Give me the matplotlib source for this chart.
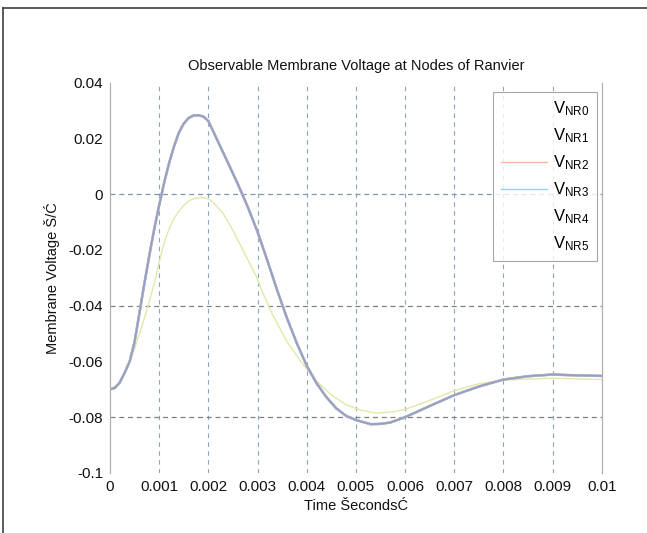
import matplotlib
matplotlib.use("Agg")
import matplotlib.pyplot as plt
from matplotlib.lines import Line2D

plt.rcParams['font.family'] = ['Liberation Sans', 'DejaVu Sans']

# time (s)
t_main = [0.0, 0.0001, 0.0002, 0.0003, 0.0004, 0.0005, 0.0006, 0.0007, 0.0008, 0.0009,
          0.0010, 0.0011, 0.0012, 0.0013, 0.0014, 0.0015, 0.0016, 0.0017, 0.0018, 0.0019,
          0.0020, 0.0021, 0.0022, 0.0024, 0.0026, 0.0028, 0.0030, 0.0032, 0.0034, 0.0036,
          0.0038, 0.0040, 0.0042, 0.0044, 0.0046, 0.0048, 0.0050, 0.0053, 0.0055, 0.0057,
          0.0060, 0.0065, 0.0070, 0.0075, 0.0080, 0.0085, 0.0090, 0.0095, 0.0100]
v_main = [-0.0700, -0.0695, -0.0675, -0.0640, -0.0600, -0.0530, -0.0425, -0.0320, -0.0220, -0.0125,
          -0.0040, 0.0040, 0.0110, 0.0170, 0.0220, 0.0253, 0.0273, 0.0282, 0.0283, 0.0278,
          0.0262, 0.0225, 0.0187, 0.0112, 0.0036, -0.0045, -0.0135, -0.0238, -0.0345, -0.0445,
          -0.0535, -0.0615, -0.0678, -0.0728, -0.0768, -0.0795, -0.0810, -0.0825, -0.0824, -0.0819,
          -0.0800, -0.0760, -0.0721, -0.0690, -0.0665, -0.0653, -0.0647, -0.0650, -0.0652]

t_faint = [0.0, 0.0002, 0.0004, 0.0005, 0.0006, 0.0007, 0.0008, 0.0009, 0.0010, 0.0011,
           0.0012, 0.0013, 0.0014, 0.0015, 0.0016, 0.0017, 0.00186, 0.0020, 0.0021, 0.0023,
           0.0025, 0.0027, 0.00298, 0.0031, 0.0033, 0.0036, 0.0039, 0.0042, 0.0045, 0.0048,
           0.0051, 0.0054, 0.0057, 0.0060, 0.0065, 0.0070, 0.0075, 0.0080, 0.0090, 0.0100]
v_faint = [-0.0700, -0.0677, -0.0605, -0.0555, -0.0500, -0.0445, -0.0385, -0.0320, -0.0245, -0.0175,
           -0.0125, -0.0088, -0.0062, -0.0040, -0.0025, -0.0016, -0.0012, -0.0017, -0.0030, -0.0069,
           -0.0130, -0.0200, -0.0297, -0.0350, -0.0430, -0.0530, -0.0605, -0.0670, -0.0720, -0.0755,
           -0.0775, -0.0785, -0.0782, -0.0772, -0.0740, -0.0705, -0.0680, -0.0667, -0.0660, -0.0665]

labels = ['$\\mathregular{V_{NR0}}$', '$\\mathregular{V_{NR1}}$', '$\\mathregular{V_{NR2}}$',
          '$\\mathregular{V_{NR3}}$', '$\\mathregular{V_{NR4}}$', '$\\mathregular{V_{NR5}}$']
line_colors = ['#b3a0d0', '#e0a6b8', '#f2b49a', '#9cc8e6', '#8fa2c4', '#dfeaa8']
legend_colors = ['white', 'white', '#f7b9a0', '#8fd6ee', 'white', 'white']

xticks = [0, 0.001, 0.002, 0.003, 0.004, 0.005, 0.006, 0.007, 0.008, 0.009, 0.01]
xticklabels = ['0', '0.001', '0.002', '0.003', '0.004', '0.005', '0.006', '0.007', '0.008', '0.009', '0.01']
yticks = [-0.1, -0.08, -0.06, -0.04, -0.02, 0, 0.02, 0.04]
yticklabels = ['-0.1', '-0.08', '-0.06', '-0.04', '-0.02', '0', '0.02', '0.04']
hgrid = [0, -0.04, -0.08]
hgrid_colors = ['#7f98b0', '#808080', '#808080']

fig = plt.figure(figsize=(6.47, 5.33), dpi=100)
ax = fig.add_axes([0.170, 0.1126, 0.760, 0.7325])

for xv in xticks[1:-1]:
    ax.axvline(xv, color='#8aa4bc', lw=0.8, ls=(0, (4, 4)), zorder=1)
for yv, c in zip(hgrid, hgrid_colors):
    ax.axhline(yv, color=c, lw=0.9, ls=(0, (4, 3)), zorder=1)

series = [(t_main, v_main), (t_main, v_main), (t_main, v_main),
          (t_main, v_main), (t_main, v_main), (t_faint, v_faint)]
handles = []
for i, ((tt, vv), c) in enumerate(zip(series, line_colors)):
    if i == 5:
        ax.plot(tt, vv, color=c, lw=1.0, zorder=1.5)
    else:
        ax.plot(tt, vv, color=c, lw=1.8 - 0.15 * i, zorder=2 + i * 0.1)
    handles.append(Line2D([], [], color=legend_colors[i], lw=1.0))

ax.set_xlim(0, 0.01)
ax.set_ylim(-0.1, 0.04)
ax.set_xticks(xticks)
ax.set_xticklabels(xticklabels)
ax.set_yticks(yticks)
ax.set_yticklabels(yticklabels)
ax.tick_params(length=0, labelsize=11, pad=5, colors='#111111')

for s in ['top', 'bottom']:
    ax.spines[s].set_visible(False)
for s in ['left', 'right']:
    ax.spines[s].set_color('#b0b0b0')
    ax.spines[s].set_linewidth(0.9)

ax.set_title('Observable Membrane Voltage at Nodes of Ranvier', fontsize=10.5, pad=9, color='#111111')
ax.set_xlabel('Time ŠecondsĆ', fontsize=10.5, labelpad=4, color='#111111')
ax.set_ylabel('Membrane Voltage Š/Ć', fontsize=10.5, labelpad=6, color='#111111')

leg = ax.legend(handles, labels, loc='upper right', bbox_to_anchor=(0.99, 0.976),
                borderaxespad=0, fontsize=12, frameon=True, fancybox=False,
                handlelength=2.8, labelspacing=0.5, borderpad=0.45, handletextpad=0.35)
leg.get_frame().set_edgecolor('#909090')
leg.get_frame().set_linewidth(0.8)

fig.add_artist(Line2D([3 / 647, 3 / 647], [0, 1 - 8 / 533], transform=fig.transFigure,
                      color='#404040', lw=1.2))
fig.add_artist(Line2D([3 / 647, 1], [1 - 8 / 533, 1 - 8 / 533], transform=fig.transFigure,
                      color='#404040', lw=1.2))

fig.savefig('out.png', dpi=100)
